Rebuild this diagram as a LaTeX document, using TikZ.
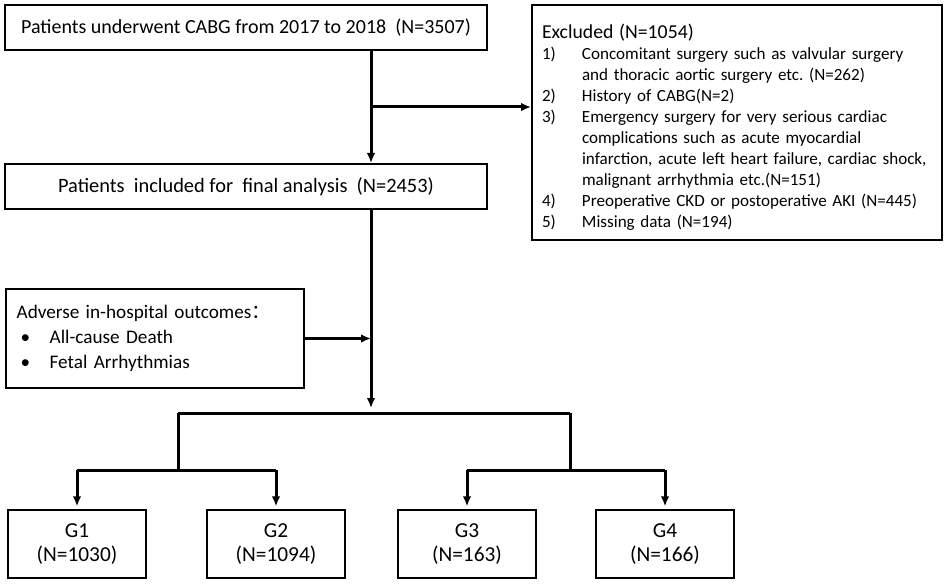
\documentclass[tikz,border=0pt]{standalone}
\usepackage{fontspec}
\setmainfont{Carlito}
\newfontfamily\cjk{Noto Sans CJK SC}
\usetikzlibrary{arrows.meta}
\frenchspacing

\tikzset{
	box/.style={draw, line width=1.5pt, inner sep=0pt},
	gbox/.style={box, minimum width=103.5pt, minimum height=51pt, align=center, font=\fontsize{16}{18}\selectfont},
	line/.style={line width=2.25pt},
	arr/.style={line width=2.25pt, -{Latex[length=7.5pt,width=6.5pt]}},
}

\begin{document}
\begin{tikzpicture}[x=0.75pt, y=-0.75pt]
	\fill[white] (0,0) rectangle (945,584);
	\useasboundingbox (0,0) rectangle (945,584);
	\node[box, minimum width=361.5pt, minimum height=33.75pt, font=\fontsize{15}{17}\selectfont] (start) at (246,27.5) {Patients underwent CABG from 2017 to 2018\ \ (N=3507)};
	\node[box, minimum width=361.5pt, minimum height=33.75pt, font=\fontsize{15.3}{17}\selectfont] (incl) at (246,186.5) {Patients\ \ included for\ \ final analysis\ \ (N=2453)};
	\node[box, anchor=north west, inner xsep=7.5pt, text width=292.5pt, minimum height=176.25pt, align=left, font=\fontsize{12.8}{15.75}\selectfont] (excl) at (531,4) {\rule{0pt}{18pt}{\fontsize{14.8}{15.75}\selectfont Excluded (N=1054)}\\
		\makebox[30pt][l]{1)}Concomitant surgery such as valvular surgery\\
		\hspace*{30pt}and thoracic aortic surgery etc. (N=262)\\
		\makebox[30pt][l]{2)}History of CABG(N=2)\\
		\makebox[30pt][l]{3)}Emergency surgery for very serious cardiac\\
		\hspace*{30pt}complications such as acute myocardial\\
		\hspace*{30pt}infarction, acute left heart failure, cardiac shock,\\
		\hspace*{30pt}malignant arrhythmia etc.(N=151)\\
		\makebox[30pt][l]{4)}Preoperative CKD or postoperative AKI (N=445)\\
		\makebox[30pt][l]{5)}Missing data (N=194)};
	\node[box, anchor=north west, inner xsep=8pt, text width=207.5pt, minimum height=74.25pt, align=left, font=\fontsize{14.4}{18.75}\selectfont] (adv) at (5,288) {Adverse in-hospital outcomes{\cjk ：}\\
		\makebox[24.75pt][l]{\hspace{3pt}•}All-cause Death\\
		\makebox[24.75pt][l]{\hspace{3pt}•}Fetal Arrhythmias};
	\foreach \g/\x/\n in {1/77/1030, 2/276/1094, 3/467/163, 4/665/166}
	{
		\node[gbox] (g\g) at (\x,544) {G\g\\(N=\n)};
	}
	\coordinate (sp1) at (371,107);
	\coordinate (hub) at (371,408);
	\coordinate (lsplit) at (178,413);
	\coordinate (rsplit) at (570,413);
	\draw[arr] (start.south -| sp1) -- (incl.north -| sp1);
	\draw[arr] (sp1) -- (sp1 -| excl.west);
	\draw[arr] (incl.south -| hub) -- (hub);
	\draw[arr] (adv.east) -- (adv.east -| hub);
	\draw[line] (lsplit) -- (rsplit);
	\draw[line] (lsplit) -- ++(0,57) coordinate (lbar);
	\draw[line] (rsplit) -- ++(0,57) coordinate (rbar);
	\draw[line] (lbar -| g1.north) -- (lbar -| g2.north);
	\draw[line] (rbar -| g3.north) -- (rbar -| g4.north);
	\draw[arr, shorten >=2pt] (lbar -| g1.north) -- (g1.north);
	\draw[arr, shorten >=2pt] (lbar -| g2.north) -- (g2.north);
	\draw[arr, shorten >=2pt] (rbar -| g3.north) -- (g3.north);
	\draw[arr, shorten >=2pt] (rbar -| g4.north) -- (g4.north);
\end{tikzpicture}
\end{document}
